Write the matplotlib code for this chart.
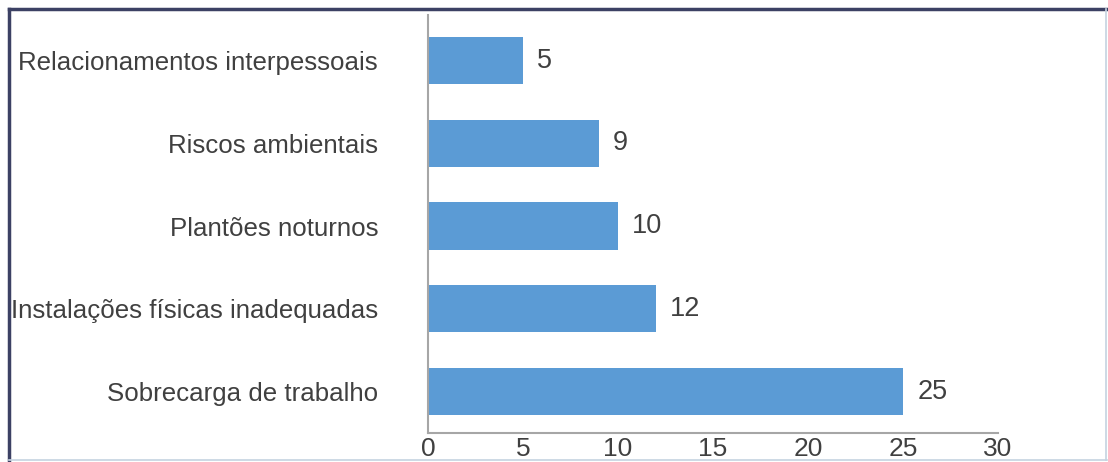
import matplotlib
matplotlib.use("Agg")
import matplotlib.pyplot as plt
from matplotlib.lines import Line2D

categories = ["Sobrecarga de trabalho", "Instalações físicas inadequadas",
              "Plantões noturnos", "Riscos ambientais",
              "Relacionamentos interpessoais"]
values = [25, 12, 10, 9, 5]
xticks = [0, 5, 10, 15, 20, 25, 30]

plt.rcParams['font.family'] = ['Liberation Sans', 'DejaVu Sans']

fig = plt.figure(figsize=(11.08, 4.62), dpi=100)
ax = fig.add_axes([428/1108, 1-433/462, (998-428)/1108, (433-15)/462])

y = list(range(len(categories)))
ax.barh(y, values, height=0.57, color="#5b9bd5")
for yi, v in zip(y, values):
    ax.text(v + 0.75, yi, str(v), va="center", ha="left", fontsize=19.5, color="#404040")

ax.set_xlim(0, 30)
ax.set_ylim(-0.5, 4.55)
ax.set_yticks(y)
ax.set_yticklabels(categories, fontsize=18.6, color="#404040")
ax.set_xticks(xticks)
ax.set_xticklabels([str(t) for t in xticks], fontsize=19, color="#404040")
ax.tick_params(axis="y", length=0, pad=36)
ax.tick_params(axis="x", length=0, pad=3)
for s in ["top", "right"]:
    ax.spines[s].set_visible(False)
for s in ["left", "bottom"]:
    ax.spines[s].set_color("#a6a6a6")
    ax.spines[s].set_linewidth(1.5)

# frame around the figure
W, H = 1108, 462
def fx(px): return px / W
def fy(py): return 1 - py / H
fig.add_artist(Line2D([fx(9), fx(9)], [fy(9), fy(461)], color="#3c4164", lw=2.5))
fig.add_artist(Line2D([fx(9), fx(1107)], [fy(9), fy(9)], color="#3c4164", lw=2.5))
fig.add_artist(Line2D([fx(1106), fx(1106)], [fy(9), fy(460)], color="#c5d3e0", lw=1.2))
fig.add_artist(Line2D([fx(9), fx(1107)], [fy(460), fy(460)], color="#c5d3e0", lw=1.2))

fig.savefig("out.png", dpi=100)
